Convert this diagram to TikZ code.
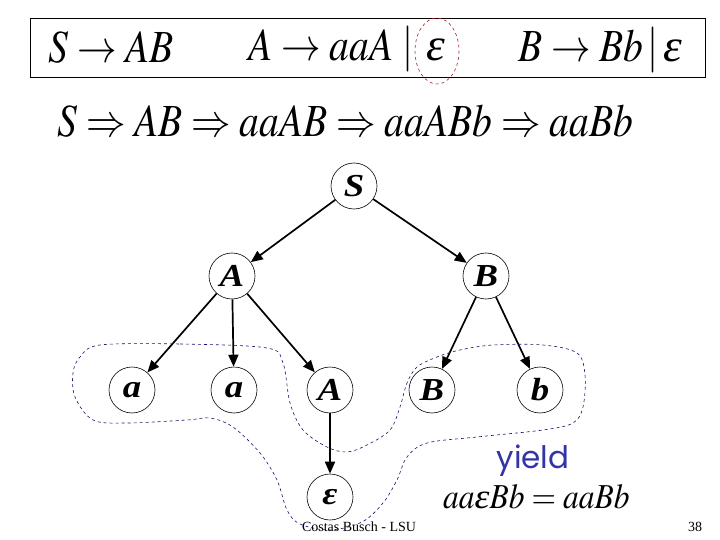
\documentclass[tikz,border=0pt]{standalone}
\usepackage{mathptmx}
\usepackage[no-math]{fontspec}
\setmainfont{Liberation Serif}
\newfontfamily\yieldfont{Poppins}
\usepackage{xcolor}
\usetikzlibrary{arrows.meta,positioning}

\definecolor{yieldblue}{RGB}{51,51,170}
\definecolor{outlineblue}{RGB}{20,20,110}
\definecolor{epsred}{RGB}{170,30,30}

\newcommand{\eps}{\mbox{\scalebox{1.2}[1]{\itshape ε}}}
\newcommand{\bigmath}[1]{\scalebox{0.86}[1]{\fontsize{46}{50}\selectfont$#1$}}
\newcommand{\treelabel}[1]{\scalebox{1.15}[1]{\fontsize{32}{34}\selectfont\bfseries\itshape #1}}

\tikzset{
  treenode/.style={draw, circle, minimum size=46pt, inner sep=0pt, line width=0.6pt},
  treeedge/.style={-{Triangle[length=12pt,width=10pt]}, line width=1.7pt},
}

\begin{document}
\begin{tikzpicture}[x=1pt, y=-1pt]
    \useasboundingbox (0,0) rectangle (720,540);
    % grammar box
    \draw[line width=0.8pt] (30,18) rectangle (705,77);
    \node[anchor=base west, inner sep=0pt] (rs) at (48,63) {\bigmath{S \rightarrow AB}};
    \node[anchor=base west, inner sep=0pt] (ra) at (248,61) {\bigmath{A \rightarrow aaA \;|\;\, \eps}};
    \node[anchor=base west, inner sep=0pt] (rb) at (518,62) {\bigmath{B \rightarrow Bb \,|\, \eps}};
    \draw[epsred, dashed, line width=0.6pt] (437,51) ellipse (22 and 33);
    % derivation
    \node[anchor=base west, inner sep=0pt] (deriv) at (57,137)
      {\bigmath{S \Rightarrow AB \Rightarrow aaAB \Rightarrow aaABb \Rightarrow aaBb}};
    % derivation tree
    \node[treenode] (s) at (354,186) {\treelabel{S}};
    \node[treenode] (a) at (232,276) {\treelabel{A}};
    \node[treenode] (b) at (486,276) {\treelabel{B}};
    \node[treenode] (a1) at (132,390) {\treelabel{a}};
    \node[treenode] (a2) at (234,390) {\treelabel{a}};
    \node[treenode] (a3) at (330,390) {\treelabel{A}};
    \node[treenode] (b1) at (432,390) {\treelabel{B}};
    \node[treenode] (b2) at (540,390) {\treelabel{b}};
    \node[treenode] (eps) at (330,497) {\treelabel{ε}};
    \draw[treeedge] (s) -- (a);
    \draw[treeedge] (s) -- (b);
    \draw[treeedge] (a) -- (a1);
    \draw[treeedge] (a) -- (a2);
    \draw[treeedge] (a) -- (a3);
    \draw[treeedge] (b) -- (b1);
    \draw[treeedge] (b) -- (b2);
    \draw[treeedge] (a3) -- (eps);
    % yield outline
    \draw[outlineblue, dashed, line width=0.6pt] plot[smooth cycle, tension=0.55] coordinates {
      (100,345) (180,344) (267,348) (283,363) (290,403) (303,430) (327,447)
      (347,452) (367,445) (390,430) (400,407) (407,383) (417,367) (437,357)
      (460,350) (493,345) (543,345) (577,353) (585,375) (583,407) (573,423)
      (543,430) (477,437) (427,443) (407,457) (397,480) (383,503) (362,522)
      (330,530) (300,524) (287,510) (277,480) (260,453) (233,427) (210,418)
      (187,420) (127,423) (93,420) (75,397) (73,373) (80,357)};
    % yield
    \node[anchor=center, text=yieldblue, inner sep=0pt] (yield) at (533,461) {\fontsize{31}{34}\selectfont\yieldfont yield};
    \node[anchor=base west, inner sep=0pt] (yieldeq) at (443,508)
      {\scalebox{0.9}[1]{\fontsize{35}{38}\selectfont$aa\eps Bb = aaBb$}};
    % footer
    \node[inner sep=0pt] (footer) at (359,527) {\fontsize{14}{16}\selectfont Costas Busch - LSU};
    \node[inner sep=0pt] (page) at (695,527) {\fontsize{14}{16}\selectfont 38};
\end{tikzpicture}
\end{document}
